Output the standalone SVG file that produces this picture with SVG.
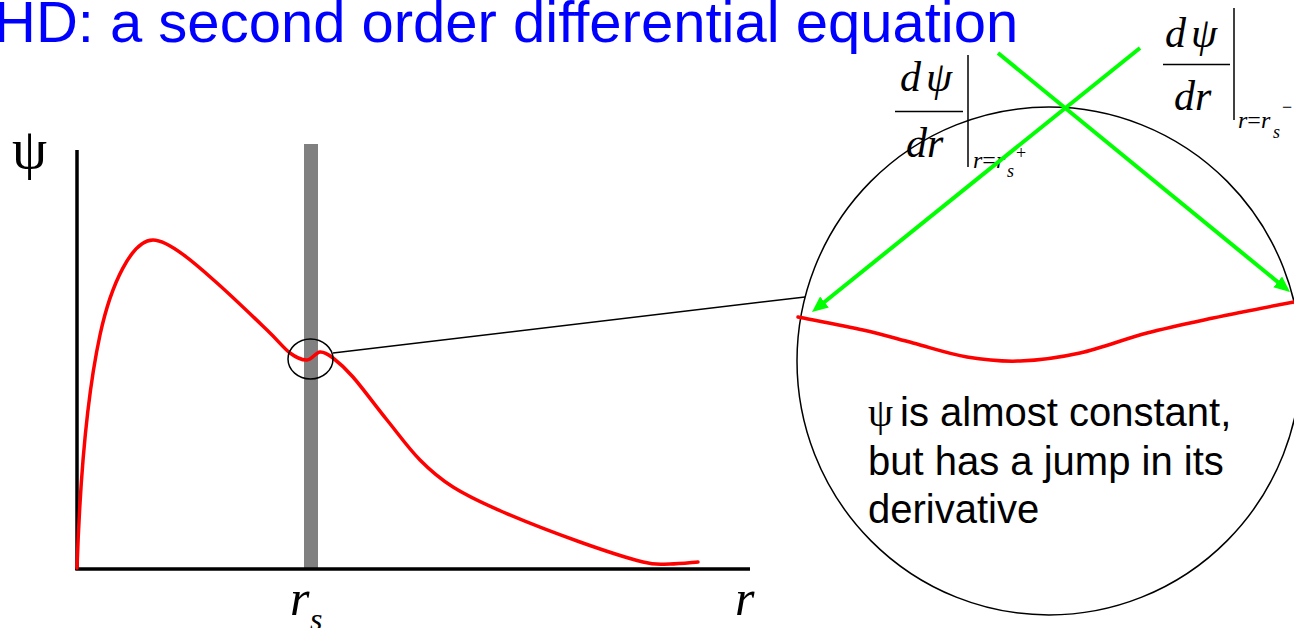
<svg xmlns="http://www.w3.org/2000/svg" width="1294" height="628" viewBox="0 0 1294 628">
<style>
.title{font-family:"Liberation Sans",Arial,sans-serif;font-size:58px;fill:#0000ff}
.body{font-family:"Liberation Sans",Arial,sans-serif;font-size:40px;fill:#000}
.sym{font-family:"Liberation Serif","Times New Roman",serif}
.math{font-family:"Liberation Serif","Times New Roman",serif;font-style:italic;fill:#000}
.thin{fill:none;stroke:#000;stroke-width:1.5}
.red{fill:none;stroke:#ff0000;stroke-width:3.5;stroke-linecap:round;stroke-linejoin:round}
.green{fill:none;stroke:#00ff00;stroke-width:4}
</style>
<defs>
<marker id="ga" markerUnits="userSpaceOnUse" markerWidth="18" markerHeight="14" refX="6" refY="7" orient="auto" viewBox="0 0 18 14">
<path d="M0,0 L16,7 L0,14 z" fill="#00ff00"/>
</marker>
</defs>
<rect width="1294" height="628" fill="#fff"/>
<text class="title" x="-6" y="42">HD: a second order differential equation</text>

<g id="plot">
<rect x="304" y="144" width="14" height="426" fill="#808080"/>
<line x1="77" y1="150" x2="77" y2="570" stroke="#000" stroke-width="3.5"/>
<line x1="75.3" y1="569" x2="750" y2="569" stroke="#000" stroke-width="3.5"/>
<path class="red" d="M77,568 C80,480 86,400 100,335 C111,284 132,240 153,240 C170,240 202,269.7 217,283 C232,296.3 254.8,318.3 267,330 C279.2,341.7 283.3,348 290,353 C296.7,358 302,360.2 307,360 C312,359.8 315.7,352.3 320,352 C324.3,351.7 327.5,353.8 333,358 C338.5,362.2 344,366.7 353,377 C362,387.3 375.8,406.2 387,420 C398.2,433.8 409,448.8 420,460 C431,471.2 439.2,478.3 453,487 C466.8,495.7 481.8,502.8 503,512 C524.2,521.2 556.7,533.7 580,542 C603.3,550.3 628,558.3 643,562 C658,565.7 660.8,564 670,564 C679.2,564 693.3,562.3 698,562"/>
<ellipse class="thin" cx="310.5" cy="359" rx="22.5" ry="20"/>
<text class="sym" x="12" y="168" font-size="56">ψ</text>
<text class="math" x="290" y="615" font-size="50">r</text>
<text class="math" x="310" y="630" font-size="32">s</text>
<text class="math" x="735" y="615" font-size="50">r</text>
</g>

<g id="zoom">
<ellipse class="thin" cx="1049" cy="361" rx="252" ry="254"/>
<path class="red" d="M798,317 C808.8,319.2 843.8,325.7 863,330 C882.2,334.3 895.7,338.5 913,343 C930.3,347.5 949.2,354 967,357 C984.8,360 1001.2,361.7 1020,361 C1038.8,360.3 1058.8,357.7 1080,353 C1101.2,348.3 1124.8,338.8 1147,333 C1169.2,327.2 1188.7,323.2 1213,318 C1237.3,312.8 1279.7,304.7 1294,302"/>
<text class="body" x="868" y="426"><tspan class="sym">ψ</tspan><tspan x="900">is almost constant,</tspan></text>
<text class="body" x="868" y="475">but has a jump in its</text>
<text class="body" x="868" y="523">derivative</text>
</g>

<g id="label-plus">
<text class="math" x="900" y="91" font-size="42">d</text>
<text class="math" x="926" y="91" font-size="42">ψ</text>
<line class="thin" x1="895" y1="111.5" x2="963" y2="111.5"/>
<text class="math" x="906" y="157" font-size="42">dr</text>
<line class="thin" x1="968" y1="55" x2="968" y2="167"/>
<text class="math" x="973" y="168" font-size="24">r<tspan font-style="normal">=</tspan>r</text>
<text class="math" x="1007" y="177" font-size="18">s</text>
<text class="sym" x="1016" y="159" font-size="18">+</text>
</g>

<g id="label-minus">
<text class="math" x="1165" y="47" font-size="42">d</text>
<text class="math" x="1191" y="47" font-size="42">ψ</text>
<line class="thin" x1="1163" y1="64.5" x2="1230" y2="64.5"/>
<text class="math" x="1174" y="110" font-size="42">dr</text>
<line class="thin" x1="1234" y1="8" x2="1234" y2="120"/>
<text class="math" x="1238" y="128" font-size="24">r<tspan font-style="normal">=</tspan>r</text>
<text class="math" x="1273" y="138" font-size="18">s</text>
<text class="sym" x="1282" y="113" font-size="18">−</text>
</g>

<g id="connectors">
<line class="thin" x1="333" y1="353" x2="805" y2="297"/>
<line class="green" x1="998" y1="53" x2="1282.3" y2="285.7" marker-end="url(#ga)"/>
<line class="green" x1="1140" y1="48" x2="819.8" y2="305.7" marker-end="url(#ga)"/>
</g>
</svg>
